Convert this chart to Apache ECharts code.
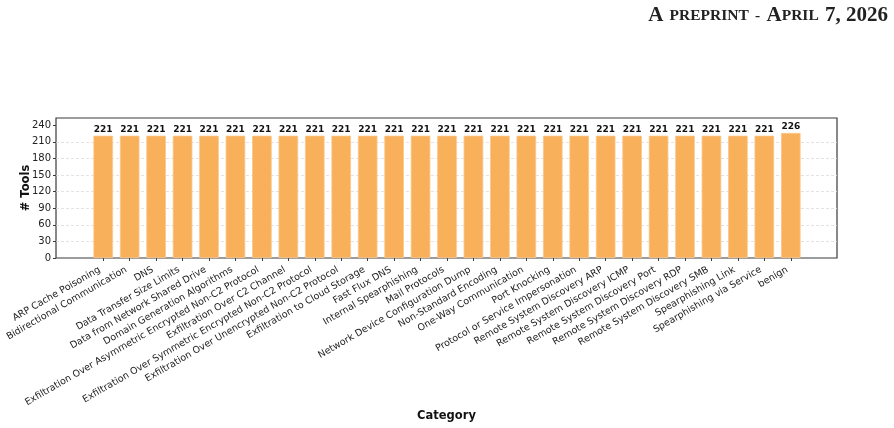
<html style="height: 100%">

<head>
    <meta charset="utf-8">
</head>

<body style="height: 100%; margin: 0; background: #fff">
    <div id="container" style="height: 100%"></div>

    <script type="text/javascript" src="https://cdn.jsdelivr.net/npm/echarts@6/dist/echarts.min.js"></script>

    <script type="text/javascript">
        var chartDom = document.getElementById('container');
        var myChart = echarts.init(chartDom);
        var option;

        // data
        var categories = [
            'ARP Cache Poisoning',
            'Bidirectional Communication',
            'DNS',
            'Data Transfer Size Limits',
            'Data from Network Shared Drive',
            'Domain Generation Algorithms',
            'Exfiltration Over Asymmetric Encrypted Non-C2 Protocol',
            'Exfiltration Over C2 Channel',
            'Exfiltration Over Symmetric Encrypted Non-C2 Protocol',
            'Exfiltration Over Unencrypted Non-C2 Protocol',
            'Exfiltration to Cloud Storage',
            'Fast Flux DNS',
            'Internal Spearphishing',
            'Mail Protocols',
            'Network Device Configuration Dump',
            'Non-Standard Encoding',
            'One-Way Communication',
            'Port Knocking',
            'Protocol or Service Impersonation',
            'Remote System Discovery ARP',
            'Remote System Discovery ICMP',
            'Remote System Discovery Port',
            'Remote System Discovery RDP',
            'Remote System Discovery SMB',
            'Spearphishing Link',
            'Spearphishing via Service',
            'benign'
        ];
        var toolCounts = [
            221, 221, 221, 221, 221, 221, 221, 221, 221, 221,
            221, 221, 221, 221, 221, 221, 221, 221, 221, 221,
            221, 221, 221, 221, 221, 221, 226
        ];
        var yTicks = [0, 30, 60, 90, 120, 150, 180, 210, 240];
        var yMax = 253;

        var frameColor = '#3a3a3a';
        var textColor = '#222';

        option = {
            backgroundColor: '#fff',
            textStyle: { fontFamily: 'DejaVu Sans' },
            title: {
                text: '{b|A} {s|PREPRINT} {s|-} {b|A}{s|PRIL} {b|7, 2026}',
                right: 1,
                top: 0,
                textStyle: {
                    rich: {
                        b: { fontFamily: 'Liberation Serif', fontSize: 21, color: '#222' },
                        s: { fontFamily: 'Liberation Serif', fontSize: 15.5, color: '#222' }
                    }
                }
            },
            grid: [
                // outer frame (axes box)
                { left: 56, right: 57, top: 118, bottom: 170, show: true, borderColor: frameColor, borderWidth: 1.2 },
                // bars
                { left: 90, right: 90, top: 118, bottom: 170 }
            ],
            xAxis: [{
                gridIndex: 0,
                type: 'value',
                min: 0,
                max: 1,
                axisLine: { show: false },
                axisTick: { show: false },
                axisLabel: { show: false },
                splitLine: { show: false },
                name: 'Category',
                nameLocation: 'middle',
                nameGap: 152,
                nameTextStyle: { fontWeight: 'bold', fontSize: 11.5, color: '#111' }
            }, {
                gridIndex: 1,
                type: 'category',
                data: categories,
                axisLine: { show: false },
                axisTick: {
                    show: true,
                    alignWithLabel: true,
                    length: 3,
                    lineStyle: { color: frameColor }
                },
                axisLabel: {
                    interval: 0,
                    rotate: 30,
                    margin: 9,
                    padding: [0, 4, 0, 0],
                    fontSize: 9.5,
                    color: textColor
                }
            }],
            yAxis: [{
                gridIndex: 0,
                type: 'value',
                min: 0,
                max: yMax,
                interval: 30,
                axisLine: { show: false },
                axisTick: {
                    show: true,
                    length: 3,
                    customValues: yTicks,
                    lineStyle: { color: frameColor }
                },
                axisLabel: {
                    customValues: yTicks,
                    fontSize: 10,
                    margin: 5,
                    color: textColor
                },
                splitLine: {
                    show: true,
                    showMinLine: false,
                    showMaxLine: false,
                    lineStyle: { type: [3, 2], color: '#dcdcdc', width: 0.8 }
                },
                name: '# Tools',
                nameLocation: 'middle',
                nameGap: 24,
                nameMoveOverlap: false,
                nameTextStyle: { fontWeight: 'bold', fontSize: 11.5, color: '#111' }
            }, {
                gridIndex: 1,
                type: 'value',
                min: 0,
                max: yMax,
                show: false
            }],
            series: [{
                name: '# Tools',
                type: 'bar',
                xAxisIndex: 1,
                yAxisIndex: 1,
                barWidth: '74%',
                itemStyle: {
                    color: '#f8b05a',
                    borderColor: '#fbc68a',
                    borderWidth: 0.8
                },
                label: {
                    show: true,
                    position: 'top',
                    distance: 2,
                    fontWeight: 'bold',
                    fontSize: 9,
                    color: '#111'
                },
                data: toolCounts
            }]
        };

        option && myChart.setOption(option);

    </script>
</body>

</html>
